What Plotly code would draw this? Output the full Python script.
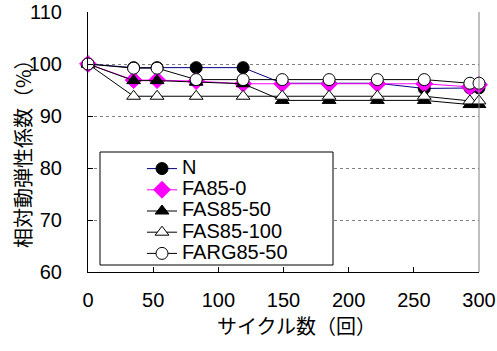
import plotly.graph_objects as go

cycles = [0, 35, 53, 83, 119, 149, 185, 222, 258, 293, 300]
series_names = ["N", "FA85-0", "FAS85-50", "FAS85-100", "FARG85-50"]
val_N = [100, 99.3, 99.3, 99.3, 99.3, 96.3, 96.3, 96.3, 95.3, 95.4, 95.4]
val_FA85_0 = [100, 96.9, 96.9, 96.7, 96.2, 96.2, 96.2, 96.2, 96.2, 95.6, 96.0]
val_FAS85_50 = [100, 96.8, 96.8, 96.5, 96.2, 93.0, 93.0, 93.0, 93.0, 92.2, 92.2]
val_FAS85_100 = [100, 93.8, 93.8, 93.8, 93.8, 93.8, 93.8, 93.8, 93.8, 92.9, 92.9]
val_FARG85_50 = [100, 99.2, 99.2, 97.0, 97.0, 97.0, 97.0, 97.0, 97.0, 96.3, 96.3]
x_ticks = [0, 50, 100, 150, 200, 250, 300]
y_ticks = [60, 70, 80, 90, 100, 110]

styles = [
    dict(line_color="#000080", symbol="circle", fill="black", lc="black", size=12),
    dict(line_color="#FF00FF", symbol="diamond", fill="#FF00FF", lc="#FF00FF", size=13),
    dict(line_color="black", symbol="triangle-up", fill="black", lc="black", size=12),
    dict(line_color="black", symbol="triangle-up", fill="white", lc="black", size=12),
    dict(line_color="black", symbol="circle", fill="white", lc="black", size=12),
]
values = [val_N, val_FA85_0, val_FAS85_50, val_FAS85_100, val_FARG85_50]

fig = go.Figure()
for name, vals, st in zip(series_names, values, styles):
    fig.add_trace(go.Scatter(
        x=cycles, y=vals, mode="lines+markers",
        name='<span style="font-size:20px">' + name + '</span>',
        line=dict(color=st["line_color"], width=1),
        marker=dict(symbol=st["symbol"], size=st["size"], color=st["fill"],
                    line=dict(color=st["lc"], width=1)),
        cliponaxis=False,
    ))

num_font = dict(family="Liberation Sans, Arial, sans-serif", size=20, color="black")
cjk_font = dict(family="Noto Sans CJK JP, sans-serif", size=20, color="black")

fig.update_layout(
    width=497, height=351,
    margin=dict(l=88, r=18, t=12, b=79),
    paper_bgcolor="white", plot_bgcolor="white",
    showlegend=True,
    legend=dict(x=(142 - 88) / 391, y=(272 - 153) / 260, xanchor="left", yanchor="top",
                bgcolor="rgba(0,0,0,0)", borderwidth=0,
                font=dict(family="Liberation Sans, Arial, sans-serif", size=14, color="black"),
                tracegroupgap=0),
    xaxis=dict(range=[0, 300], tickvals=x_ticks, ticktext=[str(v) for v in x_ticks],
               showline=True, linecolor="black", linewidth=1,
               ticks="inside", ticklen=5, tickcolor="black",
               showgrid=False, zeroline=False, tickfont=num_font,
               ticklabelstandoff=10, automargin=False),
    yaxis=dict(range=[60, 110], tickvals=y_ticks, ticktext=[str(v) for v in y_ticks],
               showline=True, linecolor="black", linewidth=1,
               ticks="inside", ticklen=5, tickcolor="black",
               showgrid=True, gridcolor="#808080", griddash="dot", gridwidth=1,
               zeroline=False, tickfont=num_font, ticklabelstandoff=21, automargin=False),
    shapes=[
        dict(type="line", xref="paper", yref="paper", x0=1, x1=1, y0=0, y1=1,
             line=dict(color="#808080", width=1)),
        dict(type="rect", xref="paper", yref="paper",
             x0=(100 - 88) / 391, x1=(333 - 88) / 391,
             y0=(272 - 265) / 260, y1=(272 - 152) / 260,
             line=dict(color="black", width=1), fillcolor="white", layer="above"),
    ],
    annotations=[
        dict(text="サイクル数（回）", xref="paper", yref="paper",
             x=(296 - 88) / 391, y=(272 - 325) / 260, xanchor="center", yanchor="middle",
             showarrow=False, font=cjk_font),
        dict(text="相対動弾性係数（%）", xref="paper", yref="paper",
             x=(22 - 88) / 391, y=(272 - 149) / 260, xanchor="center", yanchor="middle",
             textangle=-90, showarrow=False, font=cjk_font),
    ],
)

# remove the browser's default 8px page margin so the figure fills the window
fig.write_html("out.html", config={"displayModeBar": False},
               post_script="document.body.style.margin='0';")
